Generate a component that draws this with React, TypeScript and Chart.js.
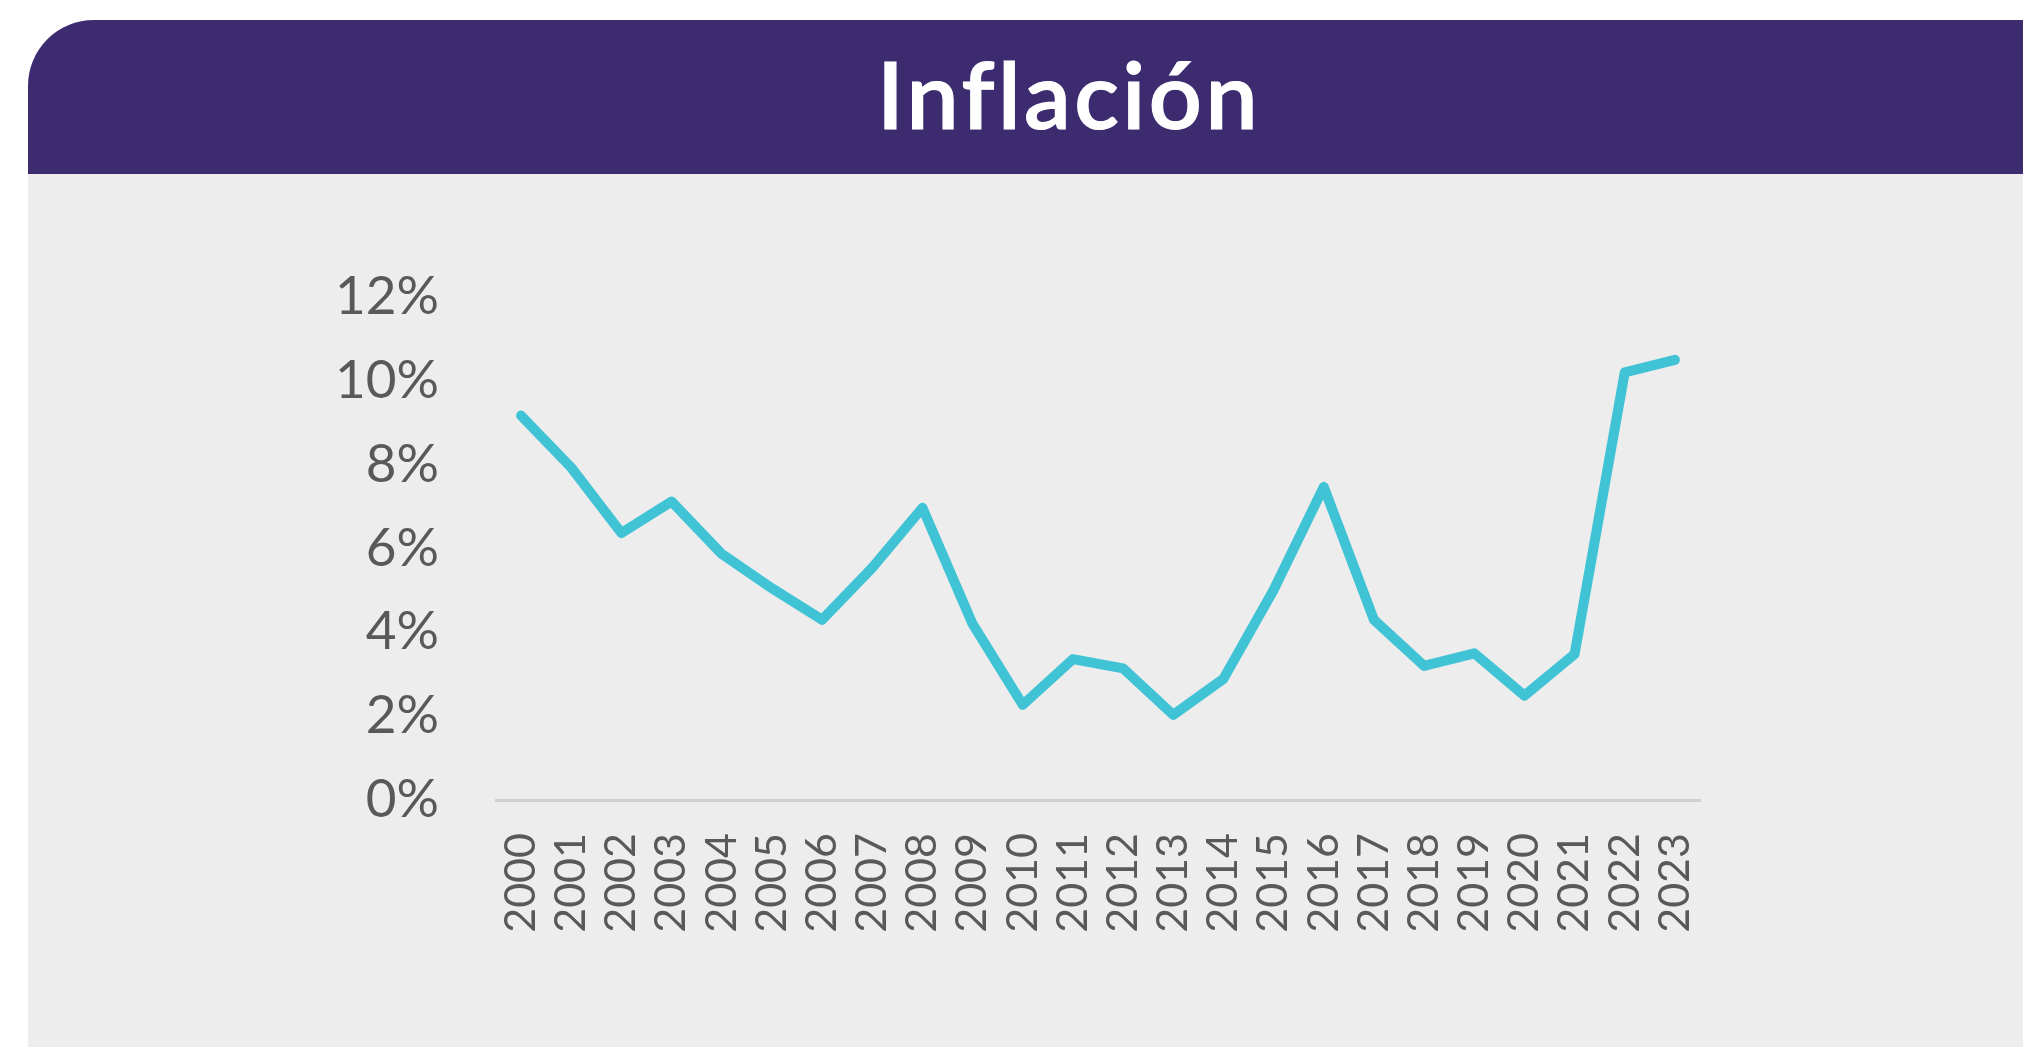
import React, { useEffect, useRef } from "react";
import { Chart, registerables } from "chart.js";

Chart.register(...registerables);

const years = [
  "2000", "2001", "2002", "2003", "2004", "2005", "2006", "2007", "2008", "2009", "2010", "2011",
  "2012", "2013", "2014", "2015", "2016", "2017", "2018", "2019", "2020", "2021", "2022", "2023",
];
const inflation = [
  9.17, 7.93, 6.37, 7.12, 5.87, 5.05, 4.3, 5.54, 6.97, 4.2, 2.27, 3.36,
  3.14, 2.03, 2.89, 5.01, 7.47, 4.3, 3.2, 3.5, 2.49, 3.48, 10.2, 10.5,
];
const yTicksMin = 0;
const yTicksMax = 12;
const yTickStep = 2;
const title = "Inflación";

const FONT = "Lato, 'Open Sans', sans-serif";
const TEXT_GRAY = "#595959";

export default function App() {
  const canvasRef = useRef<HTMLCanvasElement | null>(null);

  useEffect(() => {
    const canvas = canvasRef.current;
    if (!canvas) return;
    const chart = new Chart(canvas, {
      type: "line",
      data: {
        labels: years,
        datasets: [
          {
            label: "Inflación",
            data: inflation,
            borderColor: "#41c3d6",
            backgroundColor: "#41c3d6",
            borderWidth: 10,
            pointRadius: 0,
            pointHoverRadius: 0,
            tension: 0,
            borderCapStyle: "round",
            borderJoinStyle: "round",
            fill: false,
          },
        ],
      },
      options: {
        responsive: false,
        animation: false,
        devicePixelRatio: 1,
        layout: { padding: { left: 246, right: 323, top: 117, bottom: 77 } },
        plugins: {
          legend: { display: false },
          tooltip: { enabled: false },
          title: { display: false },
        },
        scales: {
          x: {
            type: "category",
            offset: true,
            grid: { display: false, drawTicks: false },
            border: { display: true, color: "#d0d0d0", width: 3 },
            ticks: {
              autoSkip: false,
              minRotation: 90,
              maxRotation: 90,
              padding: 33,
              color: TEXT_GRAY,
              font: { family: FONT, size: 43 },
            },
            afterFit: (scale: any) => {
              scale.height = 170;
            },
          },
          y: {
            min: yTicksMin,
            max: yTicksMax,
            grid: { display: false, drawTicks: false },
            border: { display: false },
            ticks: {
              stepSize: yTickStep,
              padding: 57,
              color: TEXT_GRAY,
              font: { family: FONT, size: 53 },
              callback: (v: any) => `${v}%`,
            },
            afterFit: (scale: any) => {
              scale.width = 250;
            },
          },
        },
      },
    });
    return () => chart.destroy();
  }, []);

  return (
    <div
      style={{
        position: "absolute",
        left: 0,
        top: 0,
        width: 2023,
        height: 1047,
        overflow: "hidden",
        background: "#ffffff",
      }}
    >
      <div
        style={{
          position: "absolute",
          left: 28,
          top: 20,
          width: 2094,
          height: 1110,
          borderRadius: 66,
          background: "#ededed",
          overflow: "hidden",
        }}
      >
        <div
          style={{
            position: "absolute",
            left: 0,
            top: 0,
            width: "100%",
            height: 154,
            background: "#3c2b6f",
          }}
        />
      </div>
      <div
        style={{
          position: "absolute",
          left: 1069,
          top: 47,
          transform: "translateX(-50%)",
          fontFamily: FONT,
          fontWeight: 600,
          fontSize: 93,
          lineHeight: "93px",
          letterSpacing: 3.5,
          color: "#ffffff",
          WebkitTextStroke: "1.2px #ffffff",
          whiteSpace: "nowrap",
        }}
      >
        {title}
      </div>
      <canvas
        ref={canvasRef}
        width={2023}
        height={867}
        style={{ position: "absolute", left: 0, top: 180, width: 2023, height: 867 }}
      />
    </div>
  );
}
